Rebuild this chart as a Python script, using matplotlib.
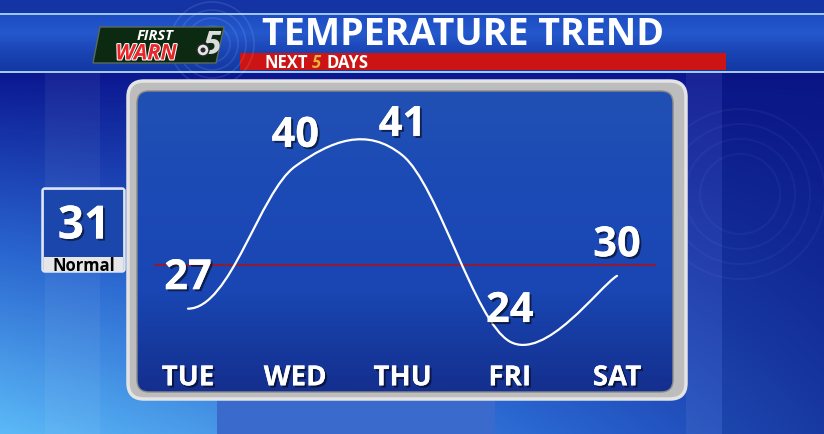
import numpy as np
import matplotlib
matplotlib.use('Agg')
import matplotlib.pyplot as plt
import matplotlib.patheffects as pe
from matplotlib.path import Path
from matplotlib.patches import PathPatch, Rectangle, FancyBboxPatch, Polygon, Circle
from matplotlib.colors import LinearSegmentedColormap

days = ['TUE', 'WED', 'THU', 'FRI', 'SAT']
temps = [27, 40, 41, 24, 30]
normal = 31

title = 'TEMPERATURE TREND'
FONT = ['Open Sans', 'DejaVu Sans']

W, H = 824, 435
fig = plt.figure(figsize=(W / 100, H / 100), dpi=100)

# background layer in pixel coordinates
bg = fig.add_axes([0, 0, 1, 1])
bg.set_xlim(0, W)
bg.set_ylim(H, 0)
bg.axis('off')

yy, xx = np.mgrid[0:H, 0:W]
t = np.clip((yy - 70) / 365, 0, 1) * (1 - 0.75 * xx / W)
sky = LinearSegmentedColormap.from_list('sky', ['#0b1790', '#2a66cf', '#5cbaf8'])
bg.imshow(sky(t), extent=[0, W, H, 0], aspect='auto', zorder=0)

# soft vertical stripes
for x0, w, a, c in [(45, 55, 0.05, 'white'), (686, 36, 0.06, 'white'),
                    (722, 102, 0.07, 'black')]:
    bg.add_patch(Rectangle((x0, 73), w, H - 73, color=c, alpha=a, lw=0, zorder=1))
bg.add_patch(Rectangle((217, 400), 278, 35, color='#3a6acc', lw=0, zorder=1))

# faint rings on the right
for r in [40, 55, 70, 85]:
    bg.add_patch(Circle((740, 195), r, fill=False, ec='white', lw=1.5, alpha=0.035, zorder=1))

# top banner
bg.add_patch(Rectangle((0, 0), W, 14, color='#1434a6', lw=0, zorder=2))
band = LinearSegmentedColormap.from_list('band', ['#1d4cc2', '#2458cc', '#1a44b4', '#1238a4'])
bg.imshow(band(np.linspace(0, 1, 60)[:, None] * np.ones((1, 2))),
          extent=[0, W, 72, 15], aspect='auto', zorder=2)
bg.add_patch(Rectangle((0, 13.5), W, 2, color='#9cc4f2', lw=0, zorder=3))
bg.add_patch(Rectangle((0, 71.5), W, 2, color='#a4c8f2', lw=0, zorder=3))
bg.add_patch(Rectangle((240, 54), 486, 17, color='#cc1414', lw=0, zorder=3))

bg.text(463, 35, title, color='white', fontsize=27, fontweight='bold',
        family=FONT, ha='center', va='center', zorder=5)
bg.text(265, 63, 'NEXT', color='white', fontsize=12, fontweight='bold',
        family=FONT, ha='left', va='center', zorder=5)
bg.text(316, 63, '5', color='#e2b43a', fontsize=12, fontweight='bold', style='italic',
        family=FONT, ha='center', va='center', zorder=5)
bg.text(327, 63, 'DAYS', color='white', fontsize=12, fontweight='bold',
        family=FONT, ha='left', va='center', zorder=5)

# logo
for r in [18, 26, 34, 42]:
    bg.add_patch(Circle((212, 45), r, fill=False, ec='white', lw=1.2, alpha=0.1, zorder=3))
bg.add_patch(Polygon([(100, 28), (224, 28), (216, 64), (93, 64)], closed=True,
                     fc='#0c2a12', ec='#5a6a5a', lw=1, zorder=4))
bg.text(155, 35.5, 'FIRST', color='white', fontsize=10.5, fontweight='bold', style='italic',
        family=FONT, ha='center', va='center', zorder=5)
bg.text(146, 55, 'WARN', color='#e8262a', fontsize=15.5, fontweight='bold', style='italic',
        family=FONT, ha='center', va='center', zorder=5,
        path_effects=[pe.Stroke(linewidth=1.5, foreground='white'), pe.Normal()])
bg.text(212, 45, '5', color='#dcdcdc', fontsize=24, fontweight='bold', style='italic',
        family=FONT, ha='center', va='center', zorder=5)
bg.add_patch(Circle((203, 51), 6, fc='#e6e6e6', ec='#2a2a2a', lw=1, zorder=6))
bg.add_patch(Circle((203, 51), 2.5, fc='#2a2a2a', lw=0, zorder=7))

# normal box
bg.add_patch(FancyBboxPatch((42, 189), 83, 84, boxstyle='round,pad=0,rounding_size=3',
                            fc='#c9d3e6', ec='#e8eef8', lw=1, zorder=3))
bg.add_patch(Rectangle((44, 191), 79, 67, color='#1b46ac', lw=0, zorder=4))
bg.add_patch(Rectangle((44, 258), 79, 14, color='#e6e6e6', lw=0, zorder=4))
bg.text(84, 227, str(normal), color='white', fontsize=33, fontweight='bold',
        family=FONT, ha='center', va='center', zorder=5,
        path_effects=[pe.withSimplePatchShadow(offset=(1.5, -1.5), shadow_rgbFace='black', alpha=0.5),
                      pe.Normal()])
bg.text(84, 266, 'Normal', color='black', fontsize=12, fontweight='bold',
        family=FONT, ha='center', va='center', zorder=5)

# panel frame
bg.add_patch(FancyBboxPatch((128, 82), 558, 318, boxstyle='round,pad=0,rounding_size=16',
                            fc='#bdbdbd', ec='#e4e4e4', lw=2.5, zorder=3))
inner = FancyBboxPatch((137, 92), 536, 301, boxstyle='round,pad=0,rounding_size=12',
                       fc='none', ec='#8a8a8a', lw=1, zorder=5)
bg.add_patch(inner)
panel = LinearSegmentedColormap.from_list('panel', ['#2150b4', '#1c4ab6', '#1946b2', '#142f8e'])
im = bg.imshow(panel(np.linspace(0, 1, 300)[:, None] * np.ones((1, 2))),
               extent=[137, 673, 393, 92], aspect='auto', zorder=4)
im.set_clip_path(inner)

# chart axes laid over the inner panel
ax = fig.add_axes([137 / W, (H - 393) / H, 536 / W, 301 / H])
ax.set_facecolor('none')
ax.axis('off')
ax.set_xlim(-0.4755, 4.522)
ax.set_ylim(19.39, 46.88)

ax.axhline(normal, xmin=0.034, xmax=0.966, color='#8c1c3c', lw=1.6, zorder=2)

# smooth curve through the daily highs (Catmull-Rom as cubic Bezier,
# starting flat like the hand-drawn original)
pts = np.column_stack([np.arange(len(days), dtype=float), np.array(temps, dtype=float)])
ext = np.vstack([pts[0], pts, pts[-1]])
verts = [pts[0]]
codes = [Path.MOVETO]
for i in range(len(pts) - 1):
    p0, p1, p2, p3 = ext[i], ext[i + 1], ext[i + 2], ext[i + 3]
    c1 = p1 + (p2 - p0) / 6
    if i == 0:
        c1 = p1 + np.array([(p2 - p1)[0] / 2.5, 0.0])
    verts += [c1, p2 - (p3 - p1) / 6, p2]
    codes += [Path.CURVE4] * 3
ax.add_patch(PathPatch(Path(verts, codes), fc='none', ec='white', lw=1.6,
                       capstyle='round', zorder=3))

shadow = [pe.withSimplePatchShadow(offset=(1.5, -1.5), shadow_rgbFace='black', alpha=0.55),
          pe.Normal()]
for i, v in enumerate(temps):
    ax.annotate(str(v), (i, v), xytext=(0, 30), textcoords='offset pixels',
                color='white', fontsize=30, fontweight='bold', family=FONT,
                ha='center', va='center', zorder=4, path_effects=shadow)

for i, d in enumerate(days):
    ax.text(i, 0.047, d, transform=ax.get_xaxis_transform(), color='white',
            fontsize=20, fontweight='bold', family=FONT, ha='center', va='center',
            zorder=4, path_effects=shadow)

fig.savefig('out.png', dpi=100)
